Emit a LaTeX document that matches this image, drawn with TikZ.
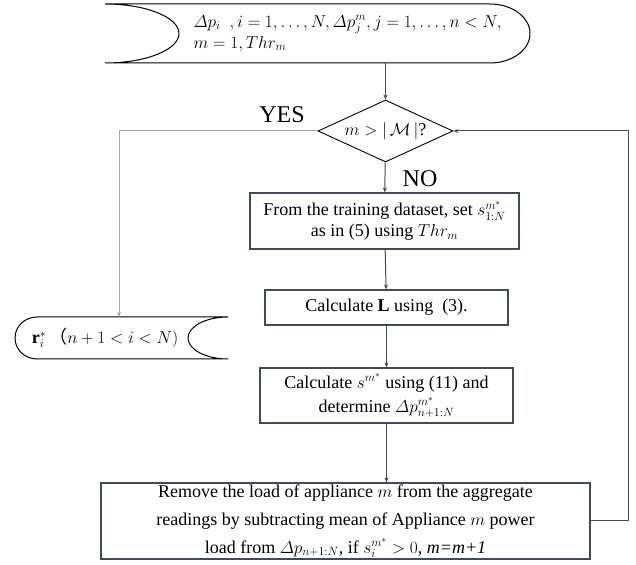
\documentclass[tikz,border=0pt]{standalone}
\usepackage{amsmath,amssymb}
\usepackage{fontspec}
\setmainfont{Liberation Serif}
\newfontfamily\cjk{Noto Sans CJK SC}
\usepackage{tikz}
\usetikzlibrary{shapes.geometric}
\usetikzlibrary{arrows.meta}
\definecolor{edgegray}{HTML}{404A58}
\definecolor{yesgray}{HTML}{A6A6A6}
\newcommand{\dd}{\varDelta}

\begin{document}
\begin{tikzpicture}[x=1pt, y=1pt,
    every node/.style={font=\fontsize{18}{21}\selectfont},
    procbox/.style={draw=edgegray, line width=1.2pt, align=center, inner sep=0pt},
    decbox/.style={diamond, aspect=2.2, draw=black, line width=0.9pt, inner sep=0pt, minimum width=135pt, minimum height=62pt},
    answer/.style={font=\fontsize{24}{28}\selectfont},
    arr/.style={draw=edgegray, line width=1pt, -{Stealth[length=5pt,width=4pt]}},
    yesarr/.style={draw=yesgray, line width=1pt, -{Stealth[length=5pt,width=4pt]}}]
    \useasboundingbox (0,0) rectangle (636,564);
    % input data
    \draw[line width=1pt] (105,560) -- (490,560) arc[start angle=90, end angle=-90, x radius=40, y radius=29.5]
        -- (105,501) arc[start angle=-90, end angle=90, x radius=74, y radius=29.5];
    \node[anchor=west, align=left] (in) at (190,530.5)
        {$\dd p_i\ \ ,i=1,\ldots,N,\dd p_j^m,j=1,\ldots,n<N,$\\ $m=1,Thr_m$};
    \coordinate (inbot) at (385.5,501);
    % decision
    \node[decbox] (dec) at (385.5,433) {$m>|\,\mathcal{M}\,|$?};
    \node[answer] (yes) at (282,449) {YES};
    \node[answer] (no) at (420,385) {NO};
    % steps
    \node[procbox, minimum width=269pt, minimum height=56pt] (b1) at (384.5,343)
        {From the training dataset, set $s_{1:N}^{m^*}$\\ as in (5) using $Thr_m$};
    \node[procbox, minimum width=243pt, minimum height=35pt] (b2) at (386.5,256.5)
        {Calculate \textbf{L} using\ \ (3).};
    \node[procbox, minimum width=253pt, minimum height=55pt] (b3) at (386.5,168.5)
        {Calculate $s^{m^*}$ using (11) and\\[3pt] determine $\dd p_{n+1:N}^{m^*}$};
    \node[procbox, minimum width=489pt, minimum height=76pt, font=\fontsize{18}{28}\selectfont] (b4) at (345.5,43)
        {Remove the load of appliance $m$ from the aggregate\\
         readings by subtracting mean of Appliance $m$ power\\
         load from $\dd p_{n+1:N}$, if $s_i^{m^*}>0$, \textit{m=m+1}};
    % output data
    \draw[line width=1pt] (228,247) -- (37,247) arc[start angle=90, end angle=270, x radius=22, y radius=21]
        -- (228,205) arc[start angle=270, end angle=90, x radius=40, y radius=21];
    \node (out) at (105,226) {$\mathbf{r}_i^*$\,{\cjk （}$n+1<i<N)$};
    \coordinate (outtop) at (119,247);
    \coordinate (back) at (628,43);
    % connectors
    \draw[arr] (inbot) -- (dec);
    \draw[arr] (dec) -- (b1);
    \draw[arr] (b1) -- (b2);
    \draw[arr] (b2) -- (b3);
    \draw[arr] (b3.south) -- (b3.south |- b4.north);
    \draw[yesarr] (dec.west) -| (outtop);
    \draw[arr] (b4.east) -- (back) |- (dec.east);
\end{tikzpicture}
\end{document}
